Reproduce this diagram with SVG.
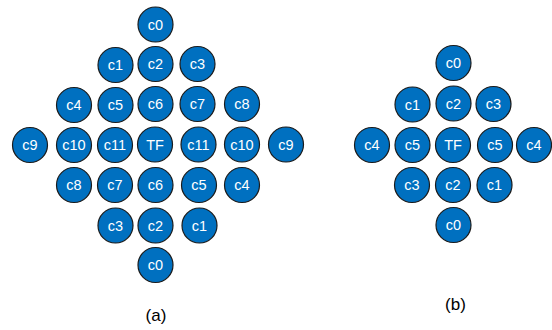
<svg xmlns="http://www.w3.org/2000/svg" width="552" height="330" viewBox="0 0 552 330">
<style>
.n circle{fill:#0070C0;stroke:#1b1b1b;stroke-width:1.2}
.n text{fill:#ffffff;font-family:"Liberation Sans",Arial,sans-serif;font-size:14.5px;text-anchor:middle;dominant-baseline:central}
.lbl{fill:#000;font-family:"Liberation Sans",Arial,sans-serif;font-size:17px;text-anchor:middle}
</style>
<rect width="552" height="330" fill="#ffffff"/>
<g id="connectors"></g>
<g id="diagram-a">
<g id="a-r1-c0" class="n"><circle cx="155.5" cy="24.5" r="17.5"/><text x="155.5" y="24.5">c0</text></g>
<g id="a-r2-c1" class="n"><circle cx="115.5" cy="65" r="17.5"/><text x="115.5" y="65">c1</text></g>
<g id="a-r2-c2" class="n"><circle cx="155.5" cy="64" r="17.5"/><text x="155.5" y="64">c2</text></g>
<g id="a-r2-c3" class="n"><circle cx="197.5" cy="64" r="17.5"/><text x="197.5" y="64">c3</text></g>
<g id="a-r3-c4" class="n"><circle cx="74" cy="105" r="17.5"/><text x="74" y="105">c4</text></g>
<g id="a-r3-c5" class="n"><circle cx="115.5" cy="105" r="17.5"/><text x="115.5" y="105">c5</text></g>
<g id="a-r3-c6" class="n"><circle cx="155.5" cy="104" r="17.5"/><text x="155.5" y="104">c6</text></g>
<g id="a-r3-c7" class="n"><circle cx="197.5" cy="104" r="17.5"/><text x="197.5" y="104">c7</text></g>
<g id="a-r3-c8" class="n"><circle cx="242" cy="104" r="17.5"/><text x="242" y="104">c8</text></g>
<g id="a-r4-c9l" class="n"><circle cx="30" cy="145" r="17.5"/><text x="30" y="145">c9</text></g>
<g id="a-r4-c10l" class="n"><circle cx="74" cy="145" r="17.5"/><text x="74" y="145">c10</text></g>
<g id="a-r4-c11l" class="n"><circle cx="115" cy="145" r="17.5"/><text x="115" y="145">c11</text></g>
<g id="a-r4-tf" class="n"><circle cx="155" cy="144.5" r="17.5"/><text x="155" y="144.5">TF</text></g>
<g id="a-r4-c11r" class="n"><circle cx="198.5" cy="144.5" r="17.5"/><text x="198.5" y="144.5">c11</text></g>
<g id="a-r4-c10r" class="n"><circle cx="242" cy="144.5" r="17.5"/><text x="242" y="144.5">c10</text></g>
<g id="a-r4-c9r" class="n"><circle cx="286" cy="144.5" r="17.5"/><text x="286" y="144.5">c9</text></g>
<g id="a-r5-c8" class="n"><circle cx="74" cy="185" r="17.5"/><text x="74" y="185">c8</text></g>
<g id="a-r5-c7" class="n"><circle cx="115" cy="185" r="17.5"/><text x="115" y="185">c7</text></g>
<g id="a-r5-c6" class="n"><circle cx="155.5" cy="185" r="17.5"/><text x="155.5" y="185">c6</text></g>
<g id="a-r5-c5" class="n"><circle cx="199" cy="185" r="17.5"/><text x="199" y="185">c5</text></g>
<g id="a-r5-c4" class="n"><circle cx="242" cy="185" r="17.5"/><text x="242" y="185">c4</text></g>
<g id="a-r6-c3" class="n"><circle cx="115.5" cy="225.5" r="17.5"/><text x="115.5" y="225.5">c3</text></g>
<g id="a-r6-c2" class="n"><circle cx="155.5" cy="225.5" r="17.5"/><text x="155.5" y="225.5">c2</text></g>
<g id="a-r6-c1" class="n"><circle cx="199.5" cy="225.5" r="17.5"/><text x="199.5" y="225.5">c1</text></g>
<g id="a-r7-c0" class="n"><circle cx="155.5" cy="265" r="17.5"/><text x="155.5" y="265">c0</text></g>
<text id="label-a" class="lbl" x="156" y="321">(a)</text>
</g>
<g id="diagram-b">
<g id="b-r1-c0" class="n"><circle cx="453.5" cy="63" r="17.5"/><text x="453.5" y="63">c0</text></g>
<g id="b-r2-c1" class="n"><circle cx="412.5" cy="104.5" r="17.5"/><text x="412.5" y="104.5">c1</text></g>
<g id="b-r2-c2" class="n"><circle cx="453.5" cy="103.5" r="17.5"/><text x="453.5" y="103.5">c2</text></g>
<g id="b-r2-c3" class="n"><circle cx="493.5" cy="104" r="17.5"/><text x="493.5" y="104">c3</text></g>
<g id="b-r3-c4l" class="n"><circle cx="372" cy="145" r="17.5"/><text x="372" y="145">c4</text></g>
<g id="b-r3-c5l" class="n"><circle cx="412.5" cy="145" r="17.5"/><text x="412.5" y="145">c5</text></g>
<g id="b-r3-tf" class="n"><circle cx="453" cy="145" r="17.5"/><text x="453" y="145">TF</text></g>
<g id="b-r3-c5r" class="n"><circle cx="495" cy="145" r="17.5"/><text x="495" y="145">c5</text></g>
<g id="b-r3-c4r" class="n"><circle cx="534" cy="145" r="17.5"/><text x="534" y="145">c4</text></g>
<g id="b-r4-c3" class="n"><circle cx="412" cy="185" r="17.5"/><text x="412" y="185">c3</text></g>
<g id="b-r4-c2" class="n"><circle cx="453" cy="185" r="17.5"/><text x="453" y="185">c2</text></g>
<g id="b-r4-c1" class="n"><circle cx="494.5" cy="185" r="17.5"/><text x="494.5" y="185">c1</text></g>
<g id="b-r5-c0" class="n"><circle cx="453.5" cy="225" r="17.5"/><text x="453.5" y="225">c0</text></g>
<text id="label-b" class="lbl" x="455.5" y="310">(b)</text>
</g>
</svg>
